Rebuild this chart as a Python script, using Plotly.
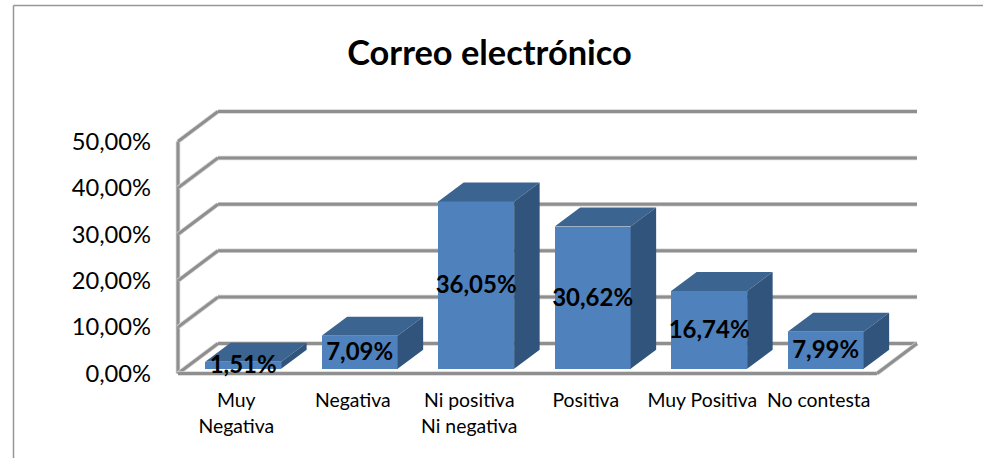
import plotly.graph_objects as go

categories = ["Muy<br>Negativa", "Negativa", "Ni positiva<br>Ni negativa", "Positiva", "Muy Positiva", "No contesta"]
values = [1.51, 7.09, 36.05, 30.62, 16.74, 7.99]
y_ticks = [0, 10, 20, 30, 40, 50]
title_text = "Correo electrónico"

FONT = "Lato, Carlito, Calibri, sans-serif"
FRONT, TOP, SIDE = "#4F81BD", "#3C6491", "#31547C"
FRAME = "#8F8F8F"

W, H = 983, 458
L, R, T, B = 170, 58, 105, 78
PX_CAT = 116.5
PX_VAL = 4.64
X0 = -0.5 - (178 - L) / PX_CAT
X1 = X0 + (W - L - R) / PX_CAT
Y0 = -(H - B - 373.5) / PX_VAL
Y1 = (373.5 - T) / PX_VAL
WALL_DX, WALL_DY = 40 / PX_CAT, 30 / PX_VAL
BAR_W = 76 / PX_CAT
BAR_OX, BAR_OY = 6.9 / PX_CAT, 4.8 / PX_VAL
BAR_DX, BAR_DY = 25.5 / PX_CAT, 19 / PX_VAL
LABEL_SHIFT = 2 / PX_VAL

n = len(values)
xs = [i + BAR_OX for i in range(n)]
fig = go.Figure()

fig.add_bar(x=xs, y=values, base=[BAR_OY] * n, width=BAR_W, marker=dict(color=FRONT, line=dict(width=0)),
            hoverinfo="skip", showlegend=False)

for x, v in zip(xs, values):
    l, r = x - BAR_W / 2, x + BAR_W / 2
    t, b = BAR_OY + v, BAR_OY
    fig.add_scatter(x=[l, r, r + BAR_DX, l + BAR_DX, l], y=[t, t, t + BAR_DY, t + BAR_DY, t],
                    mode="lines", fill="toself", fillcolor=TOP, line=dict(width=0),
                    hoverinfo="skip", showlegend=False)
    fig.add_scatter(x=[r, r + BAR_DX, r + BAR_DX, r, r], y=[b, b + BAR_DY, t + BAR_DY, t, b],
                    mode="lines", fill="toself", fillcolor=SIDE, line=dict(width=0),
                    hoverinfo="skip", showlegend=False)

fig.add_scatter(x=xs, y=[BAR_OY + v / 2 - LABEL_SHIFT for v in values],
                text=[f"{v:.2f}%".replace(".", ",") for v in values],
                mode="text", textposition="middle center",
                textfont=dict(family=FONT, size=24, color="#000000", weight="bold"),
                hoverinfo="skip", showlegend=False)

# walls, floor and gridlines behind the bars
left = -0.5
right = n - 0.5
shapes = []
def seg(x0, y0, x1, y1):
    for width, color in ((4.5, "#D4D4D4"), (3, FRAME)):
        shapes.append(dict(type="line", xref="x", yref="y", x0=x0, y0=y0, x1=x1, y1=y1,
                           layer="below", line=dict(color=color, width=width)))

seg(left, 0, left, y_ticks[-1])
for tv in y_ticks:
    seg(left, tv, left + WALL_DX, tv + WALL_DY)
    seg(left + WALL_DX, tv + WALL_DY, right + WALL_DX, tv + WALL_DY)
seg(left, 0, right, 0)
seg(right, 0, right + WALL_DX, WALL_DY)

# outer chart border (left and top only are visible in the crop)
pw, ph = W - L - R, H - T - B
bx = (13.5 - L) / pw
by = (H - B - 5.5) / ph
shapes.append(dict(type="line", xref="paper", yref="paper", layer="below", x0=bx, x1=bx, y0=by, y1=-B / ph,
                   line=dict(color="#969696", width=1.5)))
shapes.append(dict(type="line", xref="paper", yref="paper", layer="below", x0=bx, x1=(W - L) / pw, y0=by, y1=by,
                   line=dict(color="#969696", width=1.5)))

fig.update_layout(
    width=W, height=H, autosize=False,
    margin=dict(l=L, r=R, t=T, b=B, pad=0),
    paper_bgcolor="white", plot_bgcolor="white",
    shapes=shapes,
    bargap=0,
    title=dict(text=title_text, x=489.5 / W, y=1 - 53 / H, xref="container",
               yref="container", xanchor="center", yanchor="middle",
               font=dict(family=FONT, size=34.4, color="#000000", weight="bold")),
    xaxis=dict(range=[X0, X1], tickmode="array", tickvals=list(range(n)), ticktext=categories,
               showgrid=False, zeroline=False, showline=False, ticks="", ticklabelstandoff=7,
               tickfont=dict(family=FONT, size=19.4, color="#000000"), tickangle=0),
    yaxis=dict(range=[Y0, Y1], tickmode="array", tickvals=y_ticks,
               ticktext=[f"{v:.2f}%".replace(".", ",") for v in y_ticks],
               showgrid=False, zeroline=False, showline=False, ticks="", ticklabelstandoff=18,
               tickfont=dict(family=FONT, size=23.7, color="#000000")),
)
fig.write_html("out.html", config=dict(displayModeBar=False),
               post_script="document.body.style.margin='0';document.body.style.overflow='hidden';")
